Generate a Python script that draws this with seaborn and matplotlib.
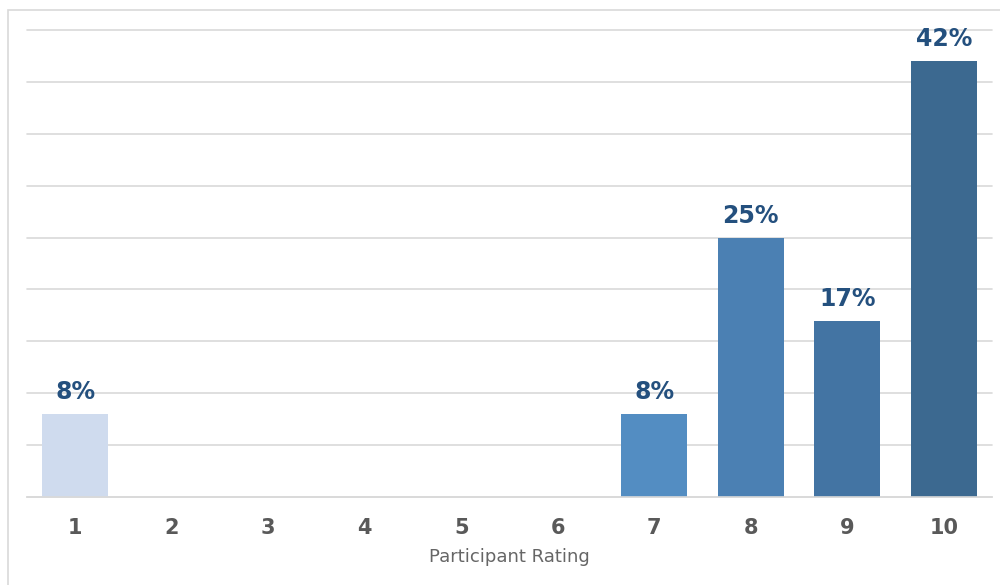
import os
import matplotlib
matplotlib.use("Agg")
import matplotlib.pyplot as plt
import matplotlib.font_manager as fm
import seaborn as sns
import pandas as pd
from matplotlib.patches import Rectangle

ratings = ["1", "2", "3", "4", "5", "6", "7", "8", "9", "10"]
percent = [8, 0, 0, 0, 0, 0, 8, 25, 17, 42]
bar_colors = ["#CFDBEE", "#BCD0EA", "#A5C2E3", "#8DB2DA", "#75A2D1",
              "#6195CA", "#538DC2", "#4B80B3", "#4374A3", "#3C6990"]

df = pd.DataFrame({"rating": ratings, "percent": percent})

sns.set_theme(style="white")
fontdir = os.path.join(matplotlib.get_data_path(), "fonts", "ttf")
reg = fm.FontProperties(fname=os.path.join(fontdir, "DejaVuSans.ttf"))
bold = fm.FontProperties(fname=os.path.join(fontdir, "DejaVuSans-Bold.ttf"))

fig = plt.figure(figsize=(10, 5.85), dpi=100)
ax = fig.add_axes([0.027, 0.1504, 0.965, 0.7983])

sns.barplot(data=df, x="rating", y="percent", hue="rating", palette=bar_colors,
            order=ratings, hue_order=ratings, legend=False, width=0.685,
            linewidth=0, saturation=1, ax=ax)

ax.set_ylim(0, 45)
ax.set_xlim(-0.5, 9.5)
ax.set_yticks(range(0, 46, 5))
ax.set_yticklabels([])
ax.yaxis.grid(True, color="#D9D9D9", linewidth=1.2)
for gl in ax.get_ygridlines():
    gl.set_clip_on(False)
ax.set_axisbelow(True)
for s in ["top", "right", "left"]:
    ax.spines[s].set_visible(False)
ax.spines["bottom"].set_color("#D9D9D9")
ax.spines["bottom"].set_linewidth(1.2)
ax.tick_params(axis="both", length=0)
ax.tick_params(axis="x", pad=15, labelcolor="#595959")
for t in ax.get_xticklabels():
    t.set_fontproperties(bold)
    t.set_fontsize(15)
ax.set_ylabel("")
ax.set_xlabel("Participant Rating", fontproperties=reg, fontsize=13,
              color="#666666", labelpad=7)

for container in ax.containers:
    for bar in container:
        h = bar.get_height()
        if h > 0:
            ax.annotate(f"{h:.0f}%", (bar.get_x() + bar.get_width() / 2, h),
                        xytext=(0, 7), textcoords="offset points",
                        ha="center", va="bottom", fontproperties=bold,
                        fontsize=17, color="#24507E")

fig.patches.append(Rectangle((0.008, -0.1), 1.2, 1.083, transform=fig.transFigure,
                             fill=False, edgecolor="#D9D9D9", linewidth=1.2))

fig.savefig("out.png", dpi=100)
